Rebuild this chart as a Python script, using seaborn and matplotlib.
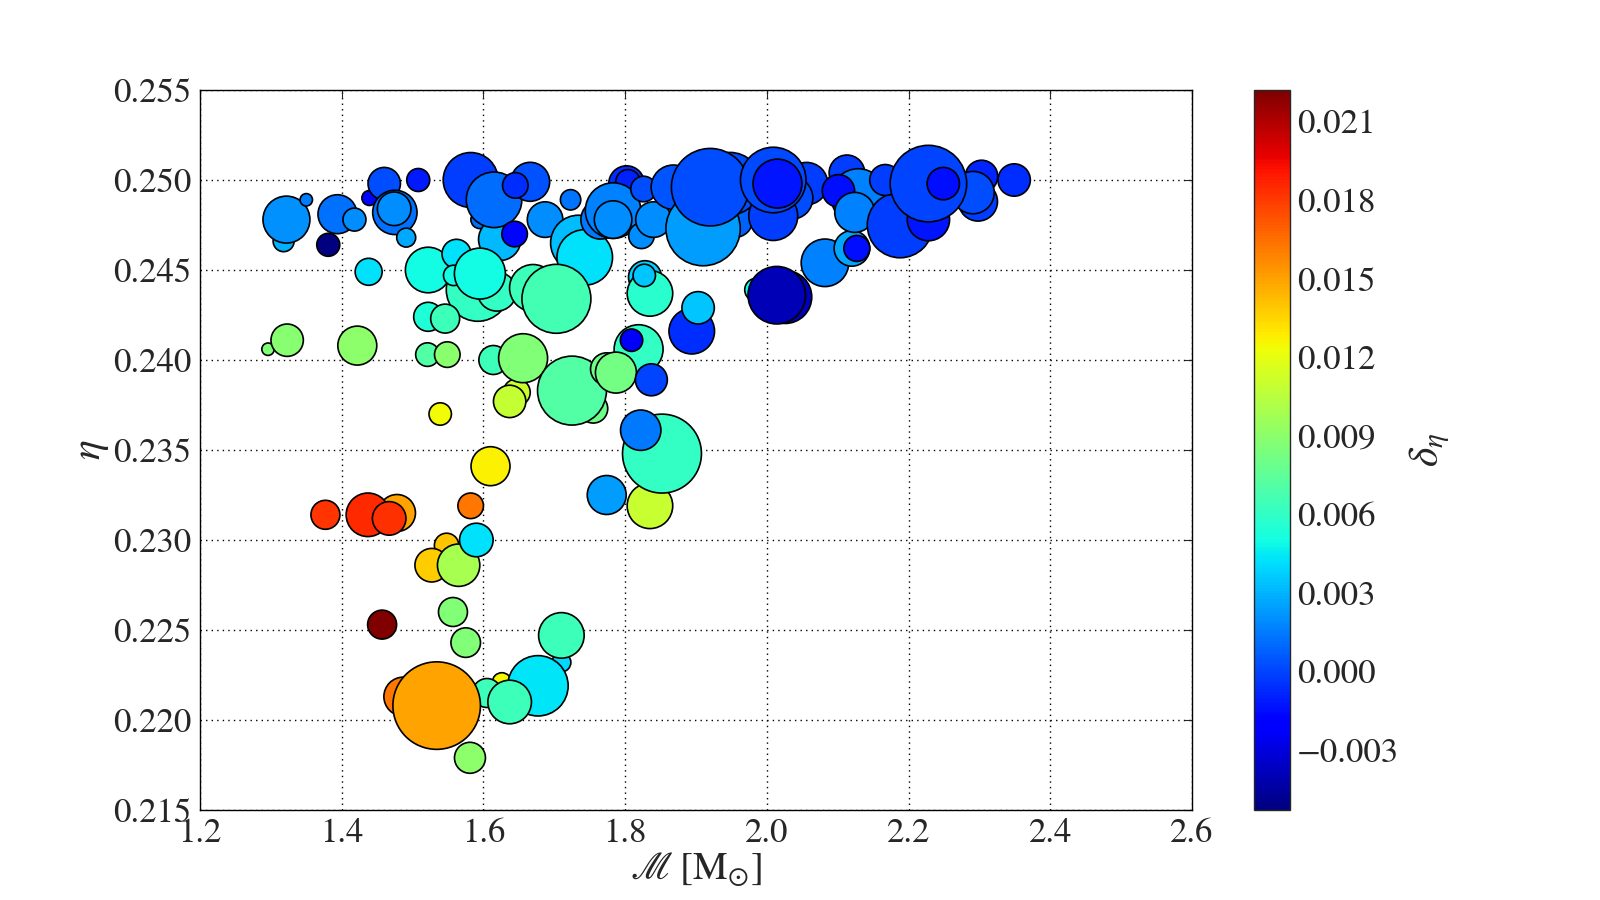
import numpy as np
import pandas as pd
import matplotlib
matplotlib.use("Agg")
import matplotlib.pyplot as plt
import seaborn as sns
from matplotlib.colors import Normalize
from matplotlib.cm import ScalarMappable

# chirp mass, symmetric mass ratio, eta bias, marker size (pt^2) -- in drawing order
mchirp = [1.318, 1.322, 1.350, 1.394, 1.418, 1.381, 1.439, 1.460, 1.475, 1.474, 1.491, 1.508, 1.438,
          1.595, 1.582, 1.623, 1.615, 1.666, 1.645, 1.644, 1.687, 1.723, 1.734, 1.743,
          1.592, 1.619, 1.522, 1.562, 1.558, 1.595, 1.670, 1.703, 1.522, 1.546,
          1.296, 1.323, 1.422, 1.521, 1.549, 1.614, 1.647, 1.637, 1.656, 1.539, 1.755, 1.725,
          1.819, 1.809, 1.774, 1.787, 1.837, 1.835, 1.852, 1.822, 1.774,
          1.828, 1.835, 1.827, 1.894, 1.903, 1.985, 2.026, 2.014, 2.082,
          1.765, 1.802, 1.804, 1.783, 1.783, 1.826, 1.823, 1.840, 1.868, 1.955, 1.948, 1.910, 1.920,
          2.056, 2.035, 2.009, 2.009, 2.015, 2.113, 2.129, 2.101, 2.120, 2.127, 2.124,
          2.303, 2.298, 2.291, 2.349, 2.188, 2.167, 2.228, 2.228, 2.249,
          1.610, 1.582, 1.478, 1.437, 1.467, 1.377, 1.548, 1.527, 1.565, 1.590,
          1.457, 1.557, 1.575, 1.710, 1.710, 1.626, 1.605, 1.677, 1.637, 1.487, 1.534, 1.581]
eta = [0.2466, 0.2478, 0.2489, 0.2481, 0.2478, 0.2464, 0.2490, 0.2498, 0.2482, 0.2484, 0.2468, 0.2500, 0.2449,
       0.2478, 0.2500, 0.2467, 0.2489, 0.2499, 0.2497, 0.2470, 0.2478, 0.2489, 0.2465, 0.2457,
       0.2439, 0.2438, 0.2450, 0.2459, 0.2447, 0.2448, 0.2440, 0.2434, 0.2424, 0.2423,
       0.2406, 0.2411, 0.2408, 0.2403, 0.2403, 0.2400, 0.2382, 0.2377, 0.2401, 0.2370, 0.2373, 0.2383,
       0.2406, 0.2411, 0.2395, 0.2393, 0.2389, 0.2319, 0.2348, 0.2361, 0.2325,
       0.2446, 0.2437, 0.2447, 0.2416, 0.2429, 0.2439, 0.2435, 0.2436, 0.2454,
       0.2478, 0.2498, 0.2499, 0.2483, 0.2478, 0.2495, 0.2469, 0.2478, 0.2496, 0.2478, 0.2498, 0.2473, 0.2496,
       0.2498, 0.2490, 0.2480, 0.2500, 0.2498, 0.2504, 0.2491, 0.2494, 0.2462, 0.2462, 0.2482,
       0.2502, 0.2488, 0.2493, 0.2500, 0.2475, 0.2500, 0.2478, 0.2498, 0.2498,
       0.2341, 0.2319, 0.2315, 0.2314, 0.2312, 0.2314, 0.2297, 0.2286, 0.2286, 0.2300,
       0.2253, 0.2260, 0.2243, 0.2232, 0.2247, 0.2221, 0.2215, 0.2219, 0.2210, 0.2213, 0.2208, 0.2179]
delta = [0.0029, 0.0021, 0.0015, 0.0012, 0.0019, -0.0053, -0.0017, 0.0002, 0.0012, 0.0019, 0.0027, -0.0012, 0.0042,
         0.0012, -0.0002, 0.0031, 0.0011, 0.0003, -0.0006, -0.0017, 0.0019, 0.0013, 0.0032, 0.0042,
         0.0060, 0.0060, 0.0050, 0.0042, 0.0050, 0.0050, 0.0064, 0.0066, 0.0054, 0.0064,
         0.0086, 0.0088, 0.0090, 0.0071, 0.0089, 0.0064, 0.0111, 0.0109, 0.0086, 0.0124, 0.0080, 0.0071,
         0.0060, -0.0023, 0.0080, 0.0082, 0.0000, 0.0110, 0.0060, 0.0014, 0.0024,
         0.0038, 0.0057, 0.0035, -0.0006, 0.0035, 0.0050, -0.0039, -0.0040, 0.0016,
         0.0014, -0.0006, -0.0010, 0.0016, 0.0019, 0.0002, 0.0019, 0.0019, 0.0004, 0.0008, 0.0002, 0.0024, 0.0002,
         -0.0002, 0.0002, -0.0002, 0.0001, -0.0013, -0.0002, 0.0016, -0.0015, 0.0026, -0.0015, 0.0016,
         -0.0008, -0.0002, 0.0002, -0.0006, -0.0002, -0.0002, -0.0013, 0.0000, -0.0015,
         0.0127, 0.0162, 0.0149, 0.0185, 0.0183, 0.0182, 0.0140, 0.0138, 0.0099, 0.0042,
         0.0222, 0.0086, 0.0086, 0.0040, 0.0064, 0.0125, 0.0064, 0.0043, 0.0064, 0.0162, 0.0149, 0.0090]
msize = [228, 1143, 80, 787, 274, 274, 116, 543, 1020, 584, 187, 274, 377,
         168, 1565, 930, 1600, 787, 339, 339, 656, 215, 1600, 1600,
         2054, 787, 1076, 435, 215, 1346, 1143, 2464, 435, 435,
         80, 543, 787, 288, 339, 435, 377, 543, 1242, 260, 435, 2464,
         1242, 260, 543, 870, 530, 1076, 3230, 845, 787,
         564, 1076, 260, 1076, 543, 274, 1453, 1717, 1172,
         787, 656, 308, 1600, 732, 339, 339, 656, 1020, 656, 2015, 2865, 3116,
         930, 930, 1242, 2227, 1242, 656, 1565, 543, 656, 350, 828,
         543, 787, 930, 543, 2227, 497, 930, 3037, 543,
         787, 339, 708, 984, 584, 435, 308, 584, 930, 584,
         435, 435, 453, 187, 1076, 187, 435, 1888, 984, 787, 3971, 497]

df = pd.DataFrame({"mchirp": mchirp, "eta": eta, "delta": delta})
norm = Normalize(vmin=-0.0053, vmax=0.0222)
jet = matplotlib.colormaps["jet"]

sns.set_style("white")
plt.rcParams["font.family"] = ["STIXGeneral", "DejaVu Serif"]
plt.rcParams["mathtext.fontset"] = "stix"

fig, ax = plt.subplots(figsize=(16, 9), dpi=100)
fig.subplots_adjust(left=0.125, right=0.9, bottom=0.1, top=0.9)

sns.scatterplot(data=df, x="mchirp", y="eta", hue="delta", palette=jet, hue_norm=norm,
                s=msize, edgecolor="k", linewidth=1.2, alpha=1, legend=False, ax=ax)

ax.set_xlim(1.2, 2.6)
ax.set_ylim(0.215, 0.255)
ax.set_xticks(np.arange(1.2, 2.61, 0.2))
ax.set_yticks(np.arange(0.215, 0.2551, 0.005))
ax.set_xticklabels([f"{t:.1f}" for t in np.arange(1.2, 2.61, 0.2)])
ax.set_yticklabels([f"{t:.3f}" for t in np.arange(0.215, 0.2551, 0.005)])
ax.tick_params(direction="in", top=True, right=True, length=6, width=0.8, labelsize=25, pad=6)
ax.grid(True, color="k", linestyle=(0, (1, 3)), linewidth=1)
for sp in ax.spines.values():
    sp.set_color("k")
    sp.set_linewidth(1)
ax.set_xlabel(r"$\mathscr{M}\;[\mathrm{M}_{\odot}]$", fontsize=28, labelpad=0)
ax.set_ylabel(r"$\eta$", fontsize=30, labelpad=2)

sm = ScalarMappable(norm=norm, cmap=jet)
cb = fig.colorbar(sm, ax=ax)
cb.set_ticks([-0.003, 0.0, 0.003, 0.006, 0.009, 0.012, 0.015, 0.018, 0.021])
cb.set_ticklabels(["\u22120.003", "0.000", "0.003", "0.006", "0.009", "0.012", "0.015", "0.018", "0.021"])
cb.ax.tick_params(direction="in", length=6, width=0.8, labelsize=25, pad=5)
cb.outline.set_linewidth(1)
cb.set_label(r"$\delta_\eta$", fontsize=30, labelpad=6)

fig.savefig("out.png", dpi=100)
